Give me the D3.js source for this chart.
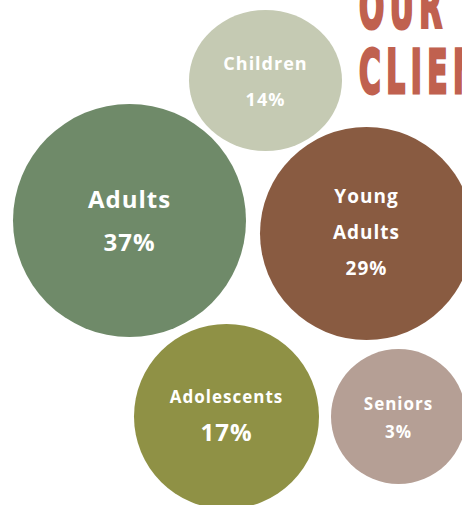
<!DOCTYPE html>
<html>
<head>
<meta charset="utf-8">
<script src="https://cdn.jsdelivr.net/npm/d3@7"></script>
<style>
  html, body { margin: 0; padding: 0; background: #fff; overflow: hidden; }
  #chart { width: 462px; height: 505px; }
</style>
</head>
<body>
<div id="chart"></div>
<script>
// ── Data ─────────────────────────────────────────────────────────────────────
const categories = ['Children', 'Adults', 'Young Adults', 'Adolescents', 'Seniors'];
const shares     = [14, 37, 29, 17, 3];
const labelLines = [['Children'], ['Adults'], ['Young', 'Adults'], ['Adolescents'], ['Seniors']];
const titleLines = ['OUR', 'CLIENTS'];

// ── Layout (in page units, mapped through the scales below) ─────────────────
const bubbleX  = [265.5, 129.5, 366.5, 226.5, 398.5];
const bubbleY  = [80.5, 220.5, 233.5, 416.5, 416.5];
const bubbleRx = [76.5, 116.5, 106.5, 92.5, 67.5];
const bubbleRy = [70.5, 116.5, 106.5, 92.5, 67.5];
const colors   = ['#c5cab3', '#6f8a69', '#895b41', '#8f9145', '#b59f95'];
const nameSize = [18, 24, 19, 17, 17];
const pctSize  = [18, 24, 19, 24, 17];
const lineGap  = [36, 43, 36, 38, 28];
const nameDy   = [-10.5, -12.5, -30.5, -13.5, -6.5];

const W = 462, H = 505;
const x = d3.scaleLinear().domain([0, 462]).range([0, W]);
const y = d3.scaleLinear().domain([0, 505]).range([0, H]);

const data = categories.map((c, i) => ({
  cat: c, share: shares[i], lines: labelLines[i],
  cx: bubbleX[i], cy: bubbleY[i], rx: bubbleRx[i], ry: bubbleRy[i],
  color: colors[i], fs: nameSize[i], ps: pctSize[i], gap: lineGap[i], dy: nameDy[i]
}));

const svg = d3.select('#chart').append('svg')
  .attr('width', W).attr('height', H);

// ── Title (condensed, runs off the top/right edge like the original) ────────
const title = svg.append('g').attr('transform', `translate(${x(359)},0) scale(0.55,1)`);
title.selectAll('text').data(titleLines).join('text')
  .attr('x', 0)
  .attr('y', (d, i) => y(28 + i * 65))
  .attr('fill', '#c0614f')
  .attr('stroke', '#c0614f').attr('stroke-width', 3)
  .attr('font-family', '"DejaVu Sans Condensed", "DejaVu Sans", sans-serif')
  .attr('font-weight', 700)
  .attr('font-size', 60)
  .attr('letter-spacing', 10)
  .text(d => d);

// ── Bubbles ──────────────────────────────────────────────────────────────────
const g = svg.append('g');
const bub = g.selectAll('g.bubble').data(data).join('g').attr('class', 'bubble');

bub.append('ellipse')
  .attr('cx', d => x(d.cx)).attr('cy', d => y(d.cy))
  .attr('rx', d => d.rx).attr('ry', d => d.ry)
  .attr('fill', d => d.color);

bub.each(function(d) {
  const sel = d3.select(this);
  const rows = d.lines.map(t => ({ t, fs: d.fs })).concat([{ t: d.share + '%', fs: d.ps }]);
  sel.selectAll('text').data(rows).join('text')
    .attr('x', x(d.cx))
    .attr('y', (r, i) => y(d.cy + d.dy + i * d.gap))
    .attr('text-anchor', 'middle')
    .attr('fill', '#ffffff')
    .attr('font-family', '"Open Sans", sans-serif')
    .attr('font-weight', 700)
    .attr('font-size', r => r.fs)
    .attr('letter-spacing', 1)
    .text(r => r.t);
});
</script>
</body>
</html>
